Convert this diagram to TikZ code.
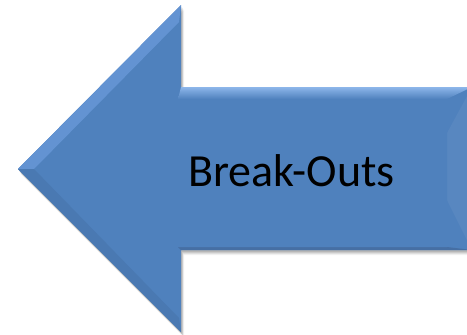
\documentclass[tikz,border=0pt]{standalone}
\usepackage{fontspec}
\setmainfont{Carlito}
\definecolor{arrowblue}{HTML}{4F81BD}
\definecolor{arrowlight}{HTML}{8DB6EA}
\definecolor{arrowmid}{HTML}{6393D2}
\definecolor{arrowdark}{HTML}{466FA4}
\begin{document}
\begin{tikzpicture}[x=1pt,y=-1pt]

\useasboundingbox (0,0) rectangle (467,335);

\begin{scope}[shift={(0,0)}]
        % outer outline
        \coordinate (T) at (18,169);
        \coordinate (HT) at (181,5);
        \coordinate (ST) at (181,87);
        \coordinate (RT) at (472,87);
        \coordinate (RB) at (472,250);
        \coordinate (SB) at (181,250);
        \coordinate (HB) at (181,332);
        % inner face
        \coordinate (Ti) at (34,169);
        \coordinate (HTi) at (179,22);
        \coordinate (STi) at (178,99);
        \coordinate (RTi) at (447,99);
        \coordinate (RBi) at (447,247);
        \coordinate (SBi) at (178,247);
        \coordinate (HBi) at (179,318);

        % shadow
        \foreach \s/\o in {5/0.05,4/0.07,3/0.09,2/0.11}
          \fill[black,opacity=\o] ([shift={(\s*0.6,\s)}]T) -- ([shift={(\s*0.6,\s)}]HT) -- ([shift={(\s*0.6,\s)}]ST)
            -- ([shift={(\s*0.6,\s)}]RT) -- ([shift={(\s*0.6,\s)}]RB) -- ([shift={(\s*0.6,\s)}]SB)
            -- ([shift={(\s*0.6,\s)}]HB) -- cycle;

        \fill[arrowblue] (T) -- (HT) -- (ST) -- (RT) -- (RB) -- (SB) -- (HB) -- cycle;

        % bevels
        \shade[top color=arrowlight, bottom color=arrowblue] (ST) -- (RT) -- (RTi) -- (STi) -- cycle;
        \fill[arrowmid] (T) -- (HT) -- (HTi) -- (Ti) -- cycle;
        \fill[arrowblue!94!black] (T) -- (HB) -- (HBi) -- (Ti) -- cycle;
        \fill[arrowdark] (SB) -- (RB) -- (RBi) -- (SBi) -- cycle;
        \fill[arrowblue!95!white] (RT) -- (RB) -- (447,200) -- (447,133) -- cycle;
        \fill[arrowblue] (STi) -- (RTi) -- (447,133) -- (447,200) -- (RBi) -- (SBi) -- cycle;
        \draw[arrowlight, line width=0.8pt] (ST) -- (RT);

        \node[anchor=base, inner sep=0pt, font=\fontsize{46}{55}\selectfont] (label) at (291.5,186) {Break-Outs};
\end{scope}

\end{tikzpicture}
\end{document}
